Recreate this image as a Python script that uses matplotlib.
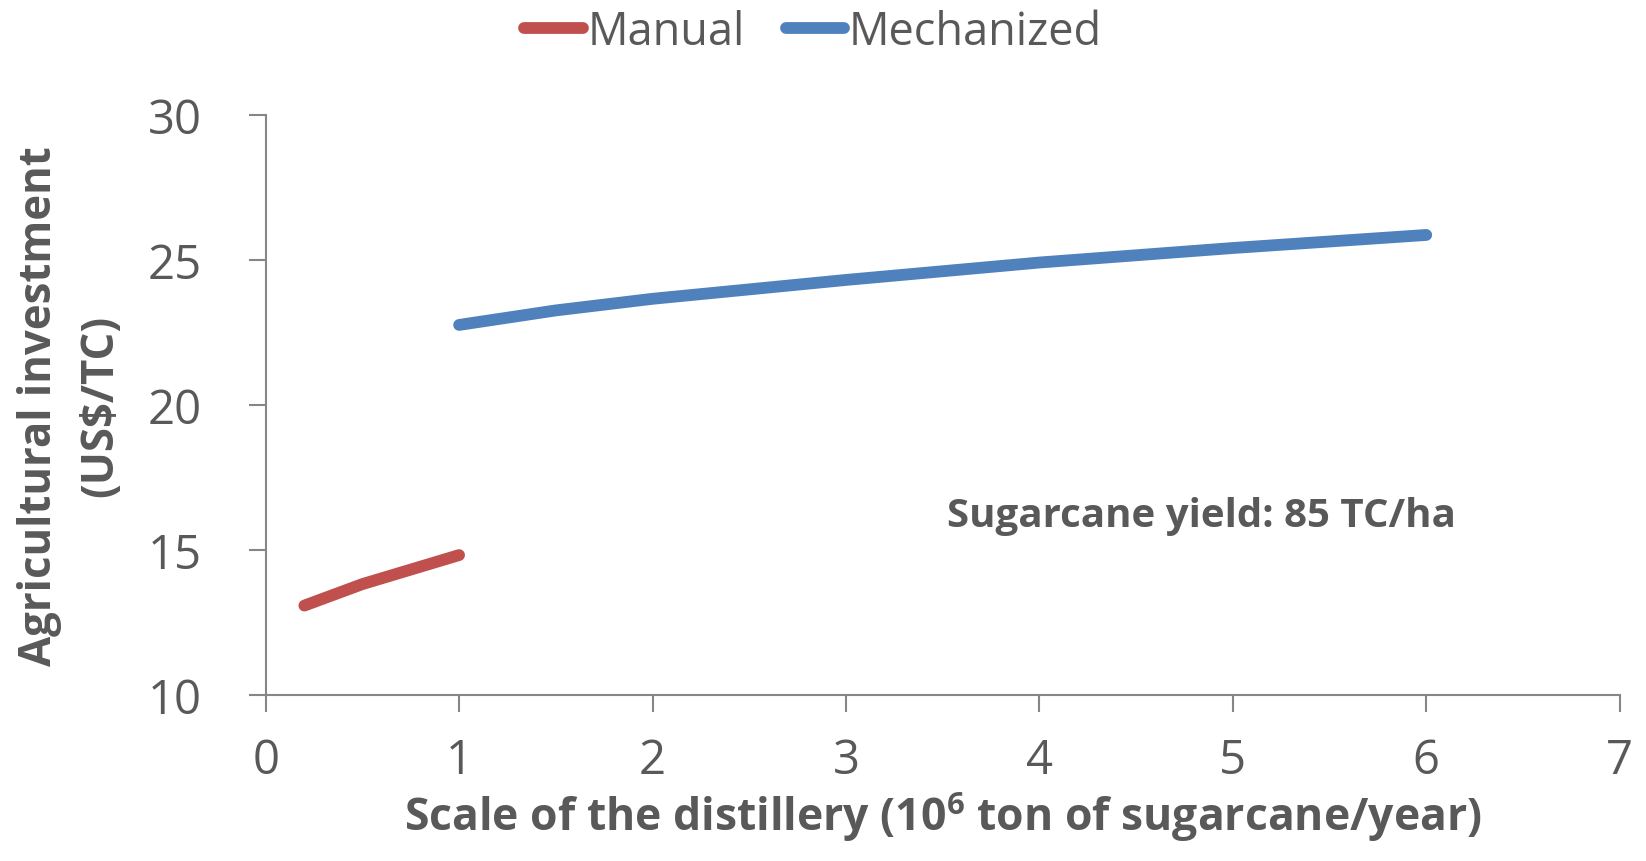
import matplotlib
matplotlib.use('Agg')
import matplotlib.pyplot as plt

manual_x = [0.2, 0.5, 0.75, 1.0]
manual_y = [13.08, 13.82, 14.32, 14.82]
mech_x = [1.0, 1.5, 2.0, 3.0, 4.0, 5.0, 6.0]
mech_y = [22.75, 23.25, 23.65, 24.3, 24.9, 25.4, 25.85]

xticks = [0, 1, 2, 3, 4, 5, 6, 7]
yticks = [10, 15, 20, 25, 30]

gray = '#595959'
plt.rcParams['font.family'] = ['Open Sans', 'DejaVu Sans']
plt.rcParams['mathtext.fontset'] = 'custom'
plt.rcParams['mathtext.rm'] = 'Open Sans'
plt.rcParams['mathtext.bf'] = 'Open Sans:bold'

fig = plt.figure(figsize=(16.46, 8.62), dpi=100)
ax = fig.add_axes([0.1614, 0.1926, 0.8226, 0.6734])

ax.plot(manual_x, manual_y, color='#C0504D', lw=8.5, solid_capstyle='round', label='Manual')
ax.plot(mech_x, mech_y, color='#4F81BD', lw=8.5, solid_capstyle='round', label='Mechanized')

ax.set_xlim(0, 7)
ax.set_ylim(10, 30)
ax.set_xticks(xticks)
ax.set_yticks(yticks)
for s in ['top', 'right']:
    ax.spines[s].set_visible(False)
for s in ['left', 'bottom']:
    ax.spines[s].set_color('#868686')
    ax.spines[s].set_linewidth(1.5)
ax.tick_params(axis='both', colors='#868686', labelcolor=gray, labelsize=34,
               length=12, width=1.5, direction='out')
ax.tick_params(axis='x', pad=18)
ax.tick_params(axis='y', pad=34)

ax.set_xlabel(r'Scale of the distillery (10$^{\mathbf{6}}$ ton of sugarcane/year)',
              fontsize=32, fontweight='bold', color=gray, va='center')
ax.xaxis.set_label_coords(0.5, -0.208)
ax.set_ylabel('Agricultural investment\n(US$/TC)', fontsize=31.5, fontweight='bold',
              color=gray, linespacing=1.5, va='center')
ax.yaxis.set_label_coords(-0.1445, 0.5)

ax.text(3.52, 16.2, 'Sugarcane yield: 85 TC/ha', fontsize=29, fontweight='bold',
        color=gray, va='center', ha='left')

fig.legend(loc='center', bbox_to_anchor=(0.494, 0.962), ncol=2, frameon=False,
           fontsize=32.5, handlelength=1.3, handletextpad=0.1, columnspacing=0.9,
           labelcolor=gray)

fig.savefig('out.png', dpi=100)
